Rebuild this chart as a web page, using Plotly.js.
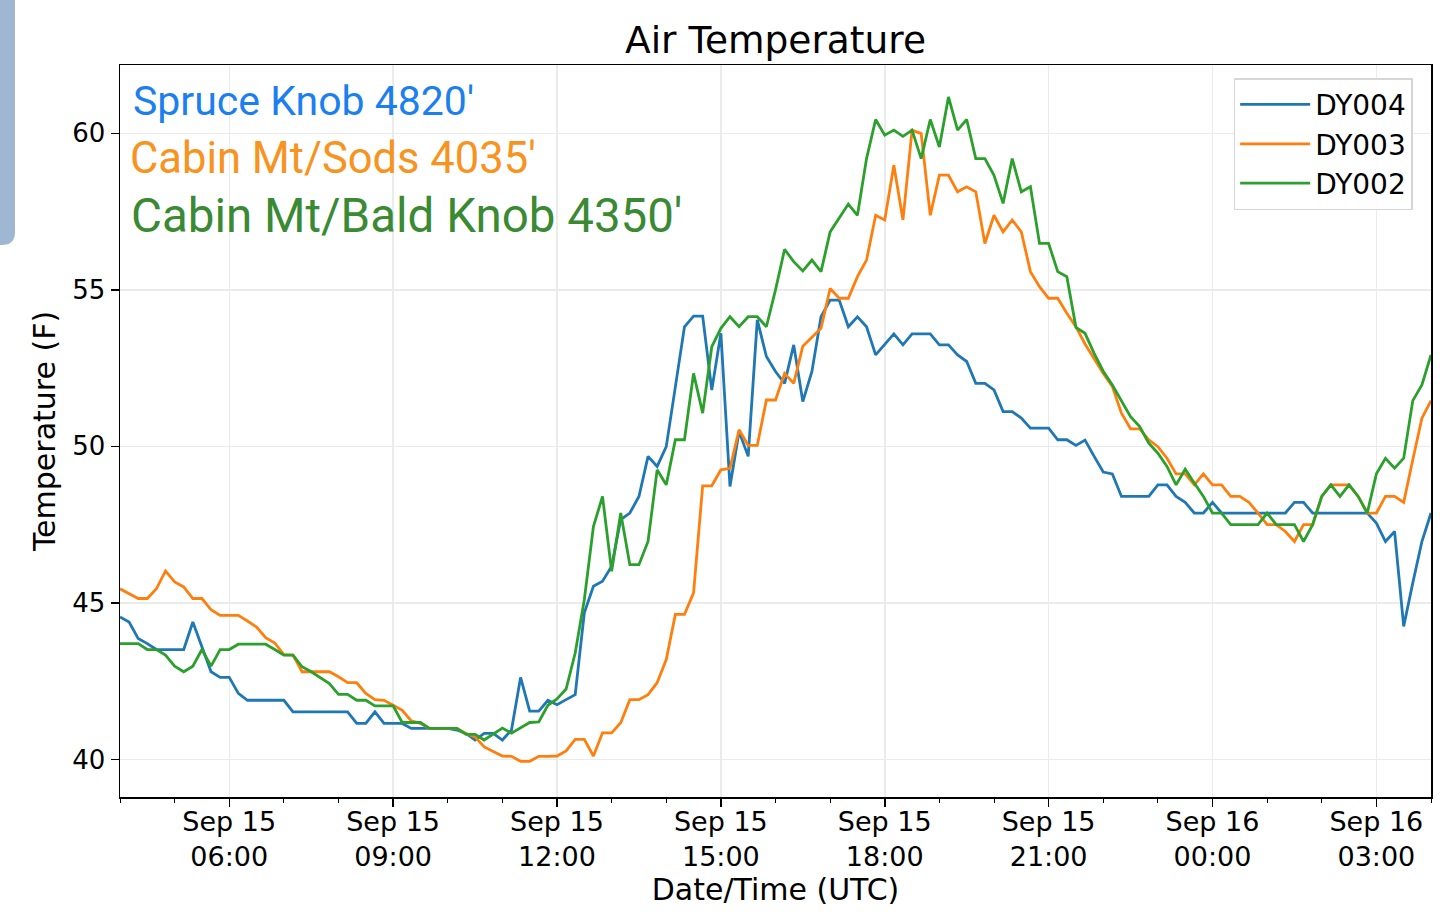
<!DOCTYPE html>
<html>
<head>
<meta charset="utf-8">
<script src="https://cdn.plot.ly/plotly-3.0.1.min.js"></script>
<style>
  html, body { margin: 0; padding: 0; background: #ffffff; }
  #chart { width: 1440px; height: 917px; }
</style>
</head>
<body>
<div id="chart"></div>
<script>
// ---- Data (10-minute samples starting Sep 15 04:00 UTC) ----
const startTime = "2018-09-15T04:00:00Z";
const stepMinutes = 10;

const seriesNames = ["DY004", "DY003", "DY002"];

const dy004 = [
  44.55, 44.39, 43.86, 43.70, 43.51, 43.51, 43.51, 43.51, 44.39, 43.59,
  42.80, 42.62, 42.62, 42.11, 41.89, 41.89, 41.89, 41.89, 41.89, 41.52,
  41.52, 41.52, 41.52, 41.52, 41.52, 41.52, 41.15, 41.15, 41.52, 41.15,
  41.15, 41.15, 40.99, 40.99, 40.99, 40.99, 40.99, 40.94, 40.83, 40.62,
  40.83, 40.83, 40.62, 40.94, 42.62, 41.54, 41.54, 41.89, 41.75, 41.91,
  42.07, 44.68, 45.53, 45.69, 46.17, 47.66, 47.87, 48.40, 49.68, 49.36,
  49.99, 51.90, 53.82, 54.16, 54.16, 51.80, 53.61, 48.72, 50.47, 49.68,
  54.04, 52.87, 52.39, 52.01, 53.24, 51.43, 52.39, 54.14, 54.67, 54.67,
  53.82, 54.14, 53.82, 52.92, 53.24, 53.59, 53.24, 53.59, 53.59, 53.59,
  53.24, 53.24, 52.92, 52.71, 52.01, 52.01, 51.80, 51.11, 51.11, 50.90,
  50.58, 50.58, 50.58, 50.21, 50.21, 50.03, 50.20, 49.68, 49.18, 49.12,
  48.40, 48.40, 48.40, 48.40, 48.77, 48.77, 48.40, 48.21, 47.87, 47.87,
  48.21, 47.87, 47.87, 47.87, 47.87, 47.87, 47.87, 47.87, 47.87, 48.21,
  48.21, 47.87, 47.87, 47.87, 47.87, 47.87, 47.87, 47.87, 47.55, 46.96,
  47.28, 44.25, 45.64, 46.96, 47.87
];

const dy003 = [
  45.45, 45.30, 45.14, 45.14, 45.45, 46.02, 45.67, 45.51, 45.14, 45.14,
  44.78, 44.60, 44.60, 44.60, 44.42, 44.23, 43.89, 43.72, 43.35, 43.33,
  42.80, 42.80, 42.80, 42.80, 42.64, 42.45, 42.45, 42.11, 41.91, 41.89,
  41.73, 41.57, 41.23, 41.15, 40.99, 40.99, 40.99, 40.99, 40.83, 40.72,
  40.40, 40.25, 40.11, 40.10, 39.94, 39.94, 40.10, 40.10, 40.11, 40.27,
  40.64, 40.64, 40.11, 40.85, 40.85, 41.17, 41.91, 41.91, 42.07, 42.45,
  43.19, 44.63, 44.63, 45.32, 48.74, 48.74, 49.25, 49.30, 50.53, 50.03,
  50.03, 51.48, 51.48, 52.33, 52.01, 53.20, 53.50, 53.77, 55.04, 54.73,
  54.73, 55.42, 55.95, 57.38, 57.23, 58.98, 57.23, 60.10, 59.99, 57.38,
  58.66, 58.66, 58.13, 58.29, 58.13, 56.48, 57.38, 56.85, 57.23, 56.85,
  55.58, 55.10, 54.73, 54.73, 54.25, 53.82, 53.27, 52.80, 52.33, 51.91,
  51.06, 50.56, 50.56, 50.21, 49.99, 49.62, 49.12, 49.12, 48.77, 49.12,
  48.77, 48.77, 48.40, 48.40, 48.21, 47.87, 47.50, 47.50, 47.28, 46.96,
  47.50, 47.50, 48.40, 48.77, 48.77, 48.77, 48.40, 47.87, 47.87, 48.40,
  48.40, 48.21, 49.57, 50.90, 51.46
];

const dy002 = [
  43.70, 43.70, 43.70, 43.51, 43.51, 43.33, 42.98, 42.80, 42.98, 43.51,
  42.98, 43.51, 43.51, 43.68, 43.68, 43.68, 43.68, 43.51, 43.33, 43.33,
  42.96, 42.80, 42.62, 42.42, 42.08, 42.08, 41.89, 41.89, 41.71, 41.71,
  41.71, 41.18, 41.18, 41.18, 40.99, 40.99, 40.99, 40.99, 40.80, 40.80,
  40.62, 40.80, 41.00, 40.84, 41.00, 41.18, 41.20, 41.73, 41.93, 42.25,
  43.40, 45.10, 47.44, 48.40, 46.01, 47.87, 46.22, 46.22, 46.96, 49.25,
  48.77, 50.21, 50.21, 52.33, 51.06, 53.18, 53.77, 54.14, 53.82, 54.14,
  54.14, 53.82, 55.00, 56.29, 55.90, 55.60, 55.95, 55.58, 56.85, 57.30,
  57.74, 57.38, 59.19, 60.44, 59.94, 60.10, 59.90, 60.10, 59.19, 60.44,
  59.56, 61.16, 60.10, 60.44, 59.19, 59.19, 58.66, 57.76, 59.19, 58.13,
  58.29, 56.48, 56.48, 55.58, 55.42, 53.80, 53.61, 52.97, 52.40, 51.96,
  51.43, 50.95, 50.63, 50.10, 49.78, 49.36, 48.77, 49.27, 48.83, 48.40,
  47.87, 47.87, 47.50, 47.50, 47.50, 47.50, 47.87, 47.50, 47.50, 47.50,
  46.96, 47.50, 48.40, 48.77, 48.40, 48.77, 48.40, 47.87, 49.12, 49.62,
  49.30, 49.62, 51.46, 51.96, 52.92
];

const tickTimes = [
  "2018-09-15 06:00", "2018-09-15 09:00", "2018-09-15 12:00", "2018-09-15 15:00",
  "2018-09-15 18:00", "2018-09-15 21:00", "2018-09-16 00:00", "2018-09-16 03:00"
];
const tickLabels = [
  "Sep 15<br>06:00", "Sep 15<br>09:00", "Sep 15<br>12:00", "Sep 15<br>15:00",
  "Sep 15<br>18:00", "Sep 15<br>21:00", "Sep 16<br>00:00", "Sep 16<br>03:00"
];
const yTickVals = [40, 45, 50, 55, 60];

const stationLabels = ["Spruce Knob 4820'", "Cabin Mt/Sods 4035'", "Cabin Mt/Bald Knob 4350'"];

// ---- Build timestamps ----
function pad(n) { return (n < 10 ? "0" : "") + n; }
function fmt(d) {
  return d.getUTCFullYear() + "-" + pad(d.getUTCMonth() + 1) + "-" + pad(d.getUTCDate()) +
    " " + pad(d.getUTCHours()) + ":" + pad(d.getUTCMinutes());
}
const t0 = new Date(startTime).getTime();
const times = dy004.map((_, i) => fmt(new Date(t0 + i * stepMinutes * 60000)));

const lineColors = ["#1f77b4", "#ff7f0e", "#2ca02c"];
const seriesData = [dy004, dy003, dy002];

const traces = seriesData.map((vals, k) => ({
  type: "scatter",
  mode: "lines",
  x: times,
  y: vals,
  name: seriesNames[k],
  line: { color: lineColors[k], width: 2.8 }
}));

const annColors = ["#1c7ff0", "#f7931e", "#3a8a34"];
const annY = [101, 158, 216];
const annSize = [41, 43.5, 47.5];
const annX = [131, 128, 129];
const plotTop = 65, plotBottom = 797, plotLeft = 120, plotRight = 1431;
const annotations = stationLabels.map((txt, k) => ({
  text: txt,
  xref: "paper", yref: "paper",
  x: (annX[k] - plotLeft) / (plotRight - plotLeft), xanchor: "left",
  y: (plotBottom - annY[k]) / (plotBottom - plotTop), yanchor: "middle",
  showarrow: false,
  font: { family: "Roboto", size: annSize[k], color: annColors[k] }
}));

const layout = {
  width: 1440,
  height: 917,
  paper_bgcolor: "#ffffff",
  plot_bgcolor: "#ffffff",
  margin: { l: 120, r: 9, t: 65, b: 120 },
  font: { family: "DejaVu Sans", color: "#000000" },
  title: {
    text: "Air Temperature",
    font: { family: "DejaVu Sans", size: 37.5, color: "#000000" },
    x: 0.5, xref: "paper", xanchor: "center",
    y: 1 - 40 / 917, yref: "container", yanchor: "middle"
  },
  xaxis: {
    type: "date",
    range: ["2018-09-15 04:00", "2018-09-16 04:00"],
    tickvals: tickTimes,
    ticktext: tickLabels,
    tickfont: { family: "DejaVu Sans", size: 27, color: "#000000" },
    ticklabelstandoff: -8,
    ticks: "outside", ticklen: 8, tickwidth: 1.5, tickcolor: "#000000",
    minor: { dtick: 3600000, tick0: "2018-09-15 04:00", ticks: "outside", ticklen: 4, tickwidth: 1, tickcolor: "#000000", showgrid: false },
    showgrid: true, gridcolor: "#ebebeb", gridwidth: 1.5,
    showline: true, linecolor: "#000000", linewidth: 1.5, mirror: true,
    zeroline: false,
    title: { text: "Date/Time (UTC)", font: { family: "DejaVu Sans", size: 30, color: "#000000" }, standoff: 4 }
  },
  yaxis: {
    range: [38.8, 62.18],
    tickvals: yTickVals,
    tickfont: { family: "DejaVu Sans", size: 26, color: "#000000" },
    ticks: "outside", ticklen: 8, tickwidth: 1.5, tickcolor: "#000000",
    showgrid: true, gridcolor: "#ebebeb", gridwidth: 1.5,
    showline: true, linecolor: "#000000", linewidth: 1.5, mirror: true,
    zeroline: false,
    title: { text: "Temperature (F)", font: { family: "DejaVu Sans", size: 30, color: "#000000" }, standoff: 7 }
  },
  legend: {
    x: 0.986, xanchor: "right", xref: "paper",
    y: 0.982, yanchor: "top", yref: "paper",
    bgcolor: "rgba(255,255,255,0.9)",
    bordercolor: "#d6d6d6", borderwidth: 1.5,
    font: { family: "DejaVu Sans", size: 28, color: "#000000" },
    itemwidth: 70,
    tracegroupgap: 0
  },
  showlegend: true,
  annotations: annotations,
  shapes: [{
    type: "path",
    xref: "paper", yref: "paper",
    path: "M -0.1 1.1 L " + ((15 - 120) / 1311) + " 1.1 L " + ((15 - 120) / 1311) + " " + ((797 - 232) / 732) +
          " Q " + ((15 - 120) / 1311) + " " + ((797 - 245) / 732) + " " + ((2 - 120) / 1311) + " " + ((797 - 245) / 732) +
          " L -0.1 " + ((797 - 245) / 732) + " Z",
    fillcolor: "#9fb7d2",
    line: { width: 0 },
    layer: "above"
  }]
};

Plotly.newPlot("chart", traces, layout, { staticPlot: true, displayModeBar: false });
</script>
</body>
</html>
